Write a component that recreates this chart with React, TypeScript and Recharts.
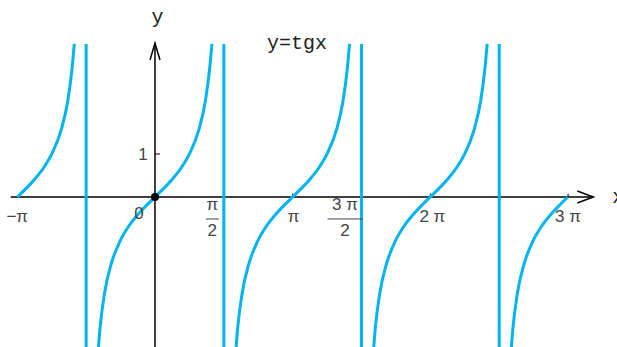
import { ComposedChart, Line, XAxis, YAxis, ReferenceLine, ReferenceDot } from "recharts";

// y = tg x, one array pair per branch (x in radians)
const branch1X = [-3.14, -2.94, -2.74, -2.54, -2.34, -2.14, -1.99, -1.89, -1.84];
const branch1Y = [0, 0.2, 0.42, 0.68, 1.03, 1.56, 2.23, 3.01, 3.56];

const branch2X = [-1.33, -1.25, -1.15, -1.0, -0.8, -0.6, -0.4, -0.2, 0, 0.2, 0.4, 0.6, 0.8, 1.0, 1.15, 1.25, 1.3];
const branch2Y = [-4.07, -3.01, -2.23, -1.56, -1.03, -0.68, -0.42, -0.2, 0, 0.2, 0.42, 0.68, 1.03, 1.56, 2.23, 3.01, 3.56];

const branch3X = [1.81, 1.89, 1.99, 2.14, 2.34, 2.54, 2.74, 2.94, 3.14, 3.34, 3.54, 3.74, 3.94, 4.14, 4.29, 4.39, 4.44];
const branch3Y = [-4.07, -3.01, -2.23, -1.56, -1.03, -0.68, -0.42, -0.2, 0, 0.2, 0.42, 0.68, 1.03, 1.56, 2.23, 3.01, 3.56];

const branch4X = [4.95, 5.03, 5.13, 5.28, 5.48, 5.68, 5.88, 6.08, 6.28, 6.48, 6.68, 6.88, 7.08, 7.28, 7.43, 7.53, 7.58];
const branch4Y = [-4.07, -3.01, -2.23, -1.56, -1.03, -0.68, -0.42, -0.2, 0, 0.2, 0.42, 0.68, 1.03, 1.56, 2.23, 3.01, 3.56];

const branch5X = [8.09, 8.17, 8.27, 8.42, 8.62, 8.82, 9.02, 9.22, 9.42];
const branch5Y = [-4.07, -3.01, -2.23, -1.56, -1.03, -0.68, -0.42, -0.2, 0];

// vertical asymptotes x = π/2 + kπ
const asymptoteX = [-1.5708, 1.5708, 4.7124, 7.854];
const asymptoteTop = 3.56;
const asymptoteBottom = -3.49;

// x axis ticks
const tickValues = [-3.1416, 0, 1.5708, 3.1416, 4.7124, 6.2832, 9.4248];
const tickNumerators = ["−π", "0", "π", "π", "3 π", "2 π", "3 π"];
const tickDenominators = ["", "", "2", "", "2", "", ""];
const tickMarkX = [3.1416, 6.2832, 9.4248];
const yTickValues = [1];
const yTickLabels = ["1"];

// axis extents
const X_DOMAIN: [number, number] = [-3.536, 10.541];
const Y_DOMAIN: [number, number] = [-3.488, 4.581];
const X_AXIS_FROM = -3.29;
const X_AXIS_TO = 10.0;
const Y_AXIS_FROM = -3.488;
const Y_AXIS_TO = 3.58;

// label layout (pixels relative to the tick point)
const TICK_DX = [0, -16, -11.5, 1, -16.5, 2, 0];
const TICK_DY = [25, 22, 0, 25, 0, 25, 25];

const BLUE = "#00b4f0";
const LABEL_COLOR = "#444";
const SANS = "'Liberation Sans', Arial, sans-serif";
const MONO = "'Liberation Mono', 'Courier New', monospace";

const toPoints = (xs: number[], ys: number[]) => xs.map((x, i) => ({ x, y: ys[i] }));

const branches = [
  toPoints(branch1X, branch1Y),
  toPoints(branch2X, branch2Y),
  toPoints(branch3X, branch3Y),
  toPoints(branch4X, branch4Y),
  toPoints(branch5X, branch5Y),
];

function XTickLabel(props: any) {
  const { cx, cy, i } = props;
  const x = cx + TICK_DX[i];
  const num = tickNumerators[i];
  const den = tickDenominators[i];
  if (den) {
    const w = num.length > 1 ? 35 : 13;
    return (
      <g>
        <text x={x} y={cy + 13} textAnchor="middle" fontFamily={SANS} fontSize={17} fill={LABEL_COLOR}>{num}</text>
        <line x1={x - w / 2} x2={x + w / 2} y1={cy + 22} y2={cy + 22} stroke={LABEL_COLOR} strokeWidth={1} />
        <text x={x} y={cy + 39} textAnchor="middle" fontFamily={SANS} fontSize={17} fill={LABEL_COLOR}>{den}</text>
      </g>
    );
  }
  return (
    <text x={x} y={cy + TICK_DY[i]} textAnchor="middle" fontFamily={SANS} fontSize={17} fill={LABEL_COLOR}>{num}</text>
  );
}

export default function App() {
  return (
    <div style={{ position: "absolute", left: 0, top: 0, width: 617, height: 347, background: "#fff" }}>
      <ComposedChart width={617} height={347} margin={{ top: 0, right: 0, bottom: 0, left: 0 }}>
        <XAxis type="number" dataKey="x" domain={X_DOMAIN} allowDataOverflow hide />
        <YAxis type="number" dataKey="y" domain={Y_DOMAIN} allowDataOverflow hide />

        {/* axes */}
        <ReferenceLine segment={[{ x: X_AXIS_FROM, y: 0 }, { x: X_AXIS_TO, y: 0 }]} stroke="#000" strokeWidth={1.5} ifOverflow="visible" />
        <ReferenceLine segment={[{ x: 0, y: Y_AXIS_FROM }, { x: 0, y: Y_AXIS_TO }]} stroke="#000" strokeWidth={1.5} ifOverflow="visible" />
        <ReferenceDot x={X_AXIS_TO} y={0} r={0} shape={(p: any) => (
          <g>
            <path d={`M${p.cx - 16},${p.cy - 6}L${p.cx},${p.cy}L${p.cx - 16},${p.cy + 6}`} fill="none" stroke="#000" strokeWidth={1.5} />
            <text x={p.cx + 19} y={p.cy + 6} fontFamily={MONO} fontSize={20} fill="#222">x</text>
          </g>
        )} />
        <ReferenceDot x={0} y={Y_AXIS_TO} r={0} shape={(p: any) => (
          <g>
            <path d={`M${p.cx - 5},${p.cy + 17}L${p.cx},${p.cy}L${p.cx + 5},${p.cy + 17}`} fill="none" stroke="#000" strokeWidth={1.5} />
            <text x={p.cx + 2.5} y={p.cy - 20} textAnchor="middle" fontFamily={MONO} fontSize={20} fill="#222">y</text>
          </g>
        )} />

        {/* tick marks and labels */}
        {tickMarkX.map((v) => (
          <ReferenceLine key={`m${v}`} segment={[{ x: v, y: 0 }, { x: v, y: 0.08 }]} stroke="#000" strokeWidth={1} ifOverflow="visible" />
        ))}
        {yTickValues.map((v, i) => (
          <ReferenceDot key={`y${v}`} x={0} y={v} r={0} shape={(p: any) => (
            <g>
              <line x1={p.cx} x2={p.cx + 5} y1={p.cy} y2={p.cy} stroke="#000" strokeWidth={1} />
              <text x={p.cx - 12} y={p.cy + 6} textAnchor="middle" fontFamily={SANS} fontSize={17} fill={LABEL_COLOR}>{yTickLabels[i]}</text>
            </g>
          )} />
        ))}
        {tickValues.map((v, i) => (
          <ReferenceDot key={`t${i}`} x={v} y={0} r={0} shape={(p: any) => <XTickLabel {...p} i={i} />} />
        ))}

        {/* asymptotes */}
        {asymptoteX.map((a) => (
          <Line
            key={`a${a}`}
            data={[{ x: a, y: asymptoteTop }, { x: a, y: asymptoteBottom }]}
            dataKey="y"
            stroke={BLUE}
            strokeWidth={3}
            dot={false}
            activeDot={false}
            isAnimationActive={false}
          />
        ))}

        {/* tangent branches */}
        {branches.map((pts, i) => (
          <Line
            key={`b${i}`}
            data={pts}
            dataKey="y"
            type="monotone"
            stroke={BLUE}
            strokeWidth={3}
            dot={false}
            activeDot={false}
            isAnimationActive={false}
          />
        ))}

        <ReferenceDot x={0} y={0} r={4} fill="#000" stroke="none" />

        <text x={267} y={49} fontFamily={MONO} fontSize={20} fill="#222">y=tgx</text>
      </ComposedChart>
    </div>
  );
}
